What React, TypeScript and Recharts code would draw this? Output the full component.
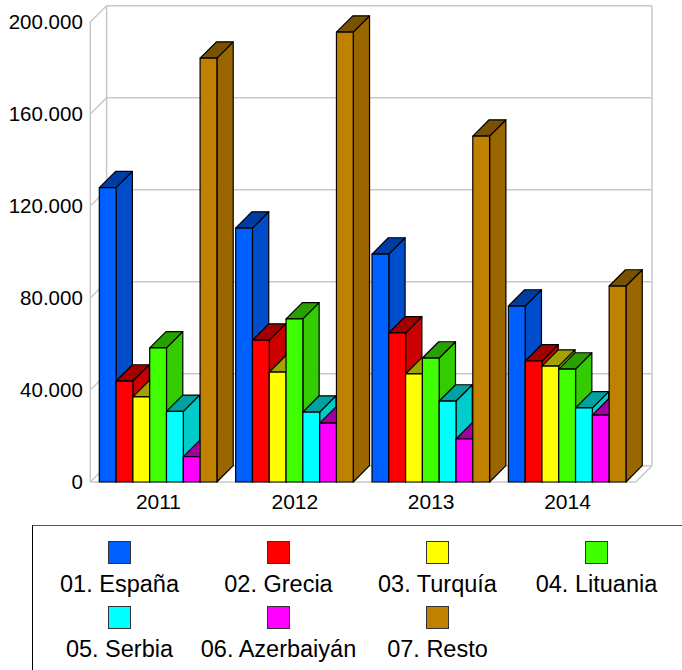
import React from "react";
import { BarChart, Bar, XAxis, YAxis, CartesianGrid, Legend } from "recharts";

const years = ["2011", "2012", "2013", "2014"];
const espana = [128000, 110400, 99100, 76500];
const grecia = [43900, 61700, 64800, 52600];
const turquia = [37000, 47800, 47000, 50400];
const lituania = [58300, 70900, 53900, 49100];
const serbia = [30700, 30400, 35200, 32200];
const azerbaiyan = [11000, 25600, 18700, 29100];
const resto = [184300, 195600, 150400, 85200];

const yTicks = [0, 40000, 80000, 120000, 160000, 200000];

const series = [
  { key: "espana", name: "01. España", color: "#0060ff", values: espana },
  { key: "grecia", name: "02. Grecia", color: "#ff0000", values: grecia },
  { key: "turquia", name: "03. Turquía", color: "#ffff00", values: turquia },
  { key: "lituania", name: "04. Lituania", color: "#40ff00", values: lituania },
  { key: "serbia", name: "05. Serbia", color: "#00ffff", values: serbia },
  { key: "azerbaiyan", name: "06. Azerbaiyán", color: "#ff00ff", values: azerbaiyan },
  { key: "resto", name: "07. Resto", color: "#c08000", values: resto },
];

const data = years.map((year, i) => {
  const row: any = { year };
  series.forEach((s) => (row[s.key] = s.values[i]));
  return row;
});

const DEPTH = 16.3;
const FONT = "'Liberation Sans', Arial, sans-serif";
const GRID = "#c8c8c8";

const shade = (hex: string, f: number) => {
  const n = parseInt(hex.slice(1), 16);
  const c = [(n >> 16) & 255, (n >> 8) & 255, n & 255].map((v) => Math.round(v * f));
  return `rgb(${c[0]},${c[1]},${c[2]})`;
};

// front face plus the side and top faces
const Bar3D = (props: any) => {
  const { x, y, width, height, fill } = props;
  if (!height) return null;
  const r = x + width;
  const b = y + height;
  return (
    <g stroke="#000" strokeWidth={1.2} strokeLinejoin="round">
      <polygon
        points={`${r},${y} ${r + DEPTH},${y - DEPTH} ${r + DEPTH},${b - DEPTH} ${r},${b}`}
        fill={shade(fill, 0.8)}
      />
      <polygon
        points={`${x},${y} ${x + DEPTH},${y - DEPTH} ${r + DEPTH},${y - DEPTH} ${r},${y}`}
        fill={shade(fill, 0.63)}
      />
      <rect x={x} y={y} width={width} height={height} fill={fill} />
    </g>
  );
};

// grid lines run along the left wall and then the back wall
const WallLine = (props: any) => {
  const { x, y, width, height, y1 } = props;
  const right = x + width;
  const isTop = Math.abs(y1 - y) < 0.5;
  const isFloor = Math.abs(y1 - (y + height)) < 0.5;
  return (
    <g stroke={GRID} strokeWidth={1.5} fill="none">
      <line x1={x} y1={y1} x2={x + DEPTH} y2={y1 - DEPTH} />
      <line x1={x + DEPTH} y1={y1 - DEPTH} x2={right + DEPTH} y2={y1 - DEPTH} />
      {isTop && <line x1={x} y1={y} x2={x} y2={y + height} />}
      {isTop && <line x1={x + DEPTH} y1={y - DEPTH} x2={x + DEPTH} y2={y + height - DEPTH} />}
      {isTop && <line x1={right + DEPTH} y1={y - DEPTH} x2={right + DEPTH} y2={y + height - DEPTH} />}
      {isFloor && <line x1={x} y1={y1} x2={right} y2={y1} />}
      {isFloor && <line x1={right} y1={y1} x2={right + DEPTH} y2={y1 - DEPTH} />}
    </g>
  );
};

const LegendBox = ({ payload }: any) => (
  <div
    style={{
      boxSizing: "border-box",
      width: 670,
      height: 160,
      border: "1px solid #000",
      borderTopColor: "#555",
      padding: "15px 0 0 7px",
      display: "grid",
      gridTemplateColumns: "repeat(4, 159px)",
      gridAutoRows: "64.5px",
      fontFamily: FONT,
      fontSize: 23.5,
      color: "#000",
      background: "#fff",
    }}
  >
    {(payload || []).map((item: any) => (
      <div key={item.value} style={{ textAlign: "center", whiteSpace: "nowrap", lineHeight: "26px" }}>
        <div
          style={{
            boxSizing: "border-box",
            width: 23,
            height: 23,
            margin: "0 auto 7px",
            border: "1px solid #333",
            background: item.color,
          }}
        />
        {item.value}
      </div>
    ))}
  </div>
);

export default function App() {
  return (
    <div style={{ position: "absolute", left: 0, top: 0, width: 682, height: 670, overflow: "hidden" }}>
      <BarChart
        width={682}
        height={670}
        data={data}
        barGap={0}
        barSize={16.8}
        margin={{ top: 22, right: 46.3, bottom: 148, left: 0 }}
      >
        <CartesianGrid vertical={false} horizontal={(p: any) => <WallLine key={p.key ?? p.index} {...p} />} />
        <XAxis
          dataKey="year"
          height={40}
          axisLine={false}
          tickLine={false}
          tickMargin={6}
          tick={{ fill: "#000", fontFamily: FONT, fontSize: 21 }}
        />
        <YAxis
          width={90.3}
          domain={[0, 200000]}
          ticks={yTicks}
          interval={0}
          axisLine={false}
          tickLine={false}
          tickMargin={1.5}
          tickFormatter={(v: number) => v.toLocaleString("de-DE")}
          tick={{ fill: "#000", fontFamily: FONT, fontSize: 20.5 }}
        />
        <Legend
          layout="horizontal"
          verticalAlign="middle"
          align="center"
          content={LegendBox as any}
          wrapperStyle={{ position: "absolute", left: 32, top: 525, width: 670, height: 160, margin: 0 }}
        />
        {series.map((s) => (
          <Bar key={s.key} dataKey={s.key} name={s.name} fill={s.color} shape={Bar3D} isAnimationActive={false} />
        ))}
      </BarChart>
    </div>
  );
}
